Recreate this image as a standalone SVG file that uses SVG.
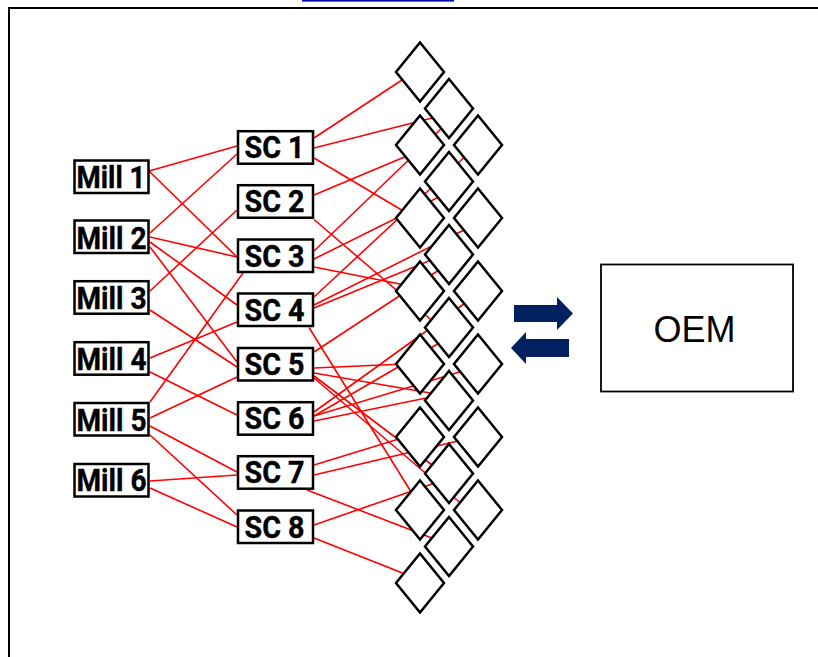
<svg xmlns="http://www.w3.org/2000/svg" xmlns:xlink="http://www.w3.org/1999/xlink" width="818" height="657" viewBox="0 0 818 657">
<style>
.frame{stroke:#000;stroke-width:2;fill:none}
.c line{stroke:#ff0000;stroke-width:1.6;stroke-linecap:butt}
.box{fill:#fff;stroke:#000;stroke-width:2.5}
.lbl{font-family:Roboto,"DejaVu Sans",sans-serif;font-weight:bold;font-size:32px;fill:#000;stroke:#000;stroke-width:0.4}
.dia{fill:#fff;stroke:#000;stroke-width:2.5;stroke-linejoin:miter}
.arr{fill:#002060}
.oem{fill:#fff;stroke:#000;stroke-width:1.8}
.oemt{font-family:"Liberation Sans",Arial,sans-serif;font-size:36px;fill:#000}
</style>
<defs>
<path id="dm" d="M0,-29.5 L24,0 L0,29.5 L-24,0 Z"/>
</defs>
<rect x="0" y="0" width="818" height="657" fill="#fff"/>
<rect x="302" y="0" width="152" height="1.6" fill="#0000aa"/>
<path class="frame" d="M9,657 V8 H818"/>

<g id="connectors" class="c">
<line x1="149" y1="171" x2="237" y2="146"/>
<line x1="149" y1="171" x2="237" y2="257"/>
<line x1="150" y1="233" x2="237" y2="154"/>
<line x1="150" y1="237" x2="237" y2="257"/>
<line x1="150" y1="242" x2="237" y2="305"/>
<line x1="150" y1="247" x2="237" y2="362"/>
<line x1="150" y1="291" x2="237" y2="210"/>
<line x1="150" y1="310" x2="237" y2="367"/>
<line x1="150" y1="358" x2="237" y2="322"/>
<line x1="150" y1="372" x2="237" y2="415"/>
<line x1="150" y1="402" x2="243" y2="273"/>
<line x1="150" y1="418" x2="237" y2="377"/>
<line x1="150" y1="426" x2="237" y2="472"/>
<line x1="150" y1="435" x2="237" y2="515"/>
<line x1="150" y1="481" x2="237" y2="475"/>
<line x1="150" y1="488" x2="237" y2="527"/>

<line x1="314" y1="138" x2="408" y2="76"/>
<line x1="314" y1="148" x2="440" y2="116"/>
<line x1="314" y1="158" x2="410" y2="215"/>
<line x1="314" y1="195" x2="414" y2="153"/>
<line x1="314" y1="219.5" x2="440" y2="327.5"/>
<line x1="314" y1="251" x2="445" y2="125"/>
<line x1="314" y1="259" x2="445" y2="194"/>
<line x1="314" y1="267" x2="410" y2="286"/>
<line x1="314" y1="297" x2="470" y2="152"/>
<line x1="314" y1="305" x2="468" y2="228"/>
<line x1="314" y1="308" x2="436" y2="258"/>
<line x1="309" y1="327.5" x2="413" y2="495"/>
<line x1="314" y1="352" x2="442" y2="268"/>
<line x1="314" y1="368" x2="405" y2="364"/>
<line x1="314" y1="373" x2="436" y2="394"/>
<line x1="314" y1="376" x2="436" y2="468"/>
<line x1="314" y1="378" x2="464" y2="506"/>
<line x1="314" y1="412" x2="468" y2="301"/>
<line x1="314" y1="416" x2="441" y2="342"/>
<line x1="314" y1="421" x2="436" y2="396"/>
<line x1="314" y1="416" x2="466" y2="370"/>
<line x1="314" y1="465" x2="402" y2="438"/>
<line x1="314" y1="475" x2="462" y2="440"/>
<line x1="307" y1="490" x2="437" y2="540"/>
<line x1="314" y1="525" x2="438" y2="482"/>
<line x1="314" y1="538" x2="410" y2="576"/>
</g>

<g id="diamonds">
<g id="dA0"><use href="#dm" class="dia" x="420" y="72"/></g>
<g id="dA1"><use href="#dm" class="dia" x="420" y="145"/></g>
<g id="dA2"><use href="#dm" class="dia" x="420" y="218"/></g>
<g id="dA3"><use href="#dm" class="dia" x="420" y="291"/></g>
<g id="dA4"><use href="#dm" class="dia" x="420" y="364"/></g>
<g id="dA5"><use href="#dm" class="dia" x="420" y="437"/></g>
<g id="dA6"><use href="#dm" class="dia" x="420" y="510"/></g>
<g id="dA7"><use href="#dm" class="dia" x="420" y="583"/></g>
<g id="dB0"><use href="#dm" class="dia" x="449" y="108.5"/></g>
<g id="dB1"><use href="#dm" class="dia" x="449" y="181.5"/></g>
<g id="dB2"><use href="#dm" class="dia" x="449" y="254.5"/></g>
<g id="dB3"><use href="#dm" class="dia" x="449" y="327.5"/></g>
<g id="dB4"><use href="#dm" class="dia" x="449" y="400.5"/></g>
<g id="dB5"><use href="#dm" class="dia" x="449" y="473.5"/></g>
<g id="dB6"><use href="#dm" class="dia" x="449" y="546.5"/></g>
<g id="dC0"><use href="#dm" class="dia" x="478" y="145"/></g>
<g id="dC1"><use href="#dm" class="dia" x="478" y="218"/></g>
<g id="dC2"><use href="#dm" class="dia" x="478" y="291"/></g>
<g id="dC3"><use href="#dm" class="dia" x="478" y="364"/></g>
<g id="dC4"><use href="#dm" class="dia" x="478" y="437"/></g>
<g id="dC5"><use href="#dm" class="dia" x="478" y="510"/></g>
</g>

<g id="mill1"><rect class="box" x="74.5" y="160.5" width="74" height="32.5"/><text class="lbl" x="76.5" y="187.5" textLength="69" lengthAdjust="spacingAndGlyphs">Mill 1</text></g>
<g id="mill2"><rect class="box" x="74.5" y="220.5" width="74" height="32.5"/><text class="lbl" x="76.5" y="248.5" textLength="70" lengthAdjust="spacingAndGlyphs">Mill 2</text></g>
<g id="mill3"><rect class="box" x="74.5" y="281.2" width="74" height="32.5"/><text class="lbl" x="76.5" y="309" textLength="70" lengthAdjust="spacingAndGlyphs">Mill 3</text></g>
<g id="mill4"><rect class="box" x="74.5" y="342.2" width="74" height="32.5"/><text class="lbl" x="76.5" y="370" textLength="70" lengthAdjust="spacingAndGlyphs">Mill 4</text></g>
<g id="mill5"><rect class="box" x="74.5" y="403" width="74" height="32.5"/><text class="lbl" x="76.5" y="430.5" textLength="70" lengthAdjust="spacingAndGlyphs">Mill 5</text></g>
<g id="mill6"><rect class="box" x="74.5" y="464" width="74" height="32.5"/><text class="lbl" x="76.5" y="491" textLength="70" lengthAdjust="spacingAndGlyphs">Mill 6</text></g>

<g id="sc1"><rect class="box" x="238" y="131.2" width="75" height="32.5"/><text class="lbl" x="244.5" y="158.2" textLength="60" lengthAdjust="spacingAndGlyphs">SC 1</text></g>
<g id="sc2"><rect class="box" x="238" y="185.2" width="75" height="32.5"/><text class="lbl" x="244.5" y="212.2" textLength="60" lengthAdjust="spacingAndGlyphs">SC 2</text></g>
<g id="sc3"><rect class="box" x="238" y="239.5" width="75" height="32.5"/><text class="lbl" x="244.5" y="266.5" textLength="60" lengthAdjust="spacingAndGlyphs">SC 3</text></g>
<g id="sc4"><rect class="box" x="238" y="293.5" width="75" height="32.5"/><text class="lbl" x="244.5" y="320.5" textLength="60" lengthAdjust="spacingAndGlyphs">SC 4</text></g>
<g id="sc5"><rect class="box" x="238" y="348" width="75" height="32.5"/><text class="lbl" x="244.5" y="374.8" textLength="60" lengthAdjust="spacingAndGlyphs">SC 5</text></g>
<g id="sc6"><rect class="box" x="238" y="402.2" width="75" height="32.5"/><text class="lbl" x="244.5" y="429.1" textLength="60" lengthAdjust="spacingAndGlyphs">SC 6</text></g>
<g id="sc7"><rect class="box" x="238" y="456.2" width="75" height="32.5"/><text class="lbl" x="244.5" y="483.1" textLength="60" lengthAdjust="spacingAndGlyphs">SC 7</text></g>
<g id="sc8"><rect class="box" x="238" y="510.5" width="75" height="32.5"/><text class="lbl" x="244.5" y="537.5" textLength="60" lengthAdjust="spacingAndGlyphs">SC 8</text></g>

<g id="arrows">
<polygon class="arr" points="514,305 557,305 557,297 573,313.5 557,330 557,322 514,322"/>
<polygon class="arr" points="569,339 526,339 526,332 511,348 526,364 526,357 569,357"/>
</g>

<g id="oem"><rect class="oem" x="601" y="264.5" width="192" height="127"/><text class="oemt" x="694.5" y="342" text-anchor="middle">OEM</text></g>
</svg>
